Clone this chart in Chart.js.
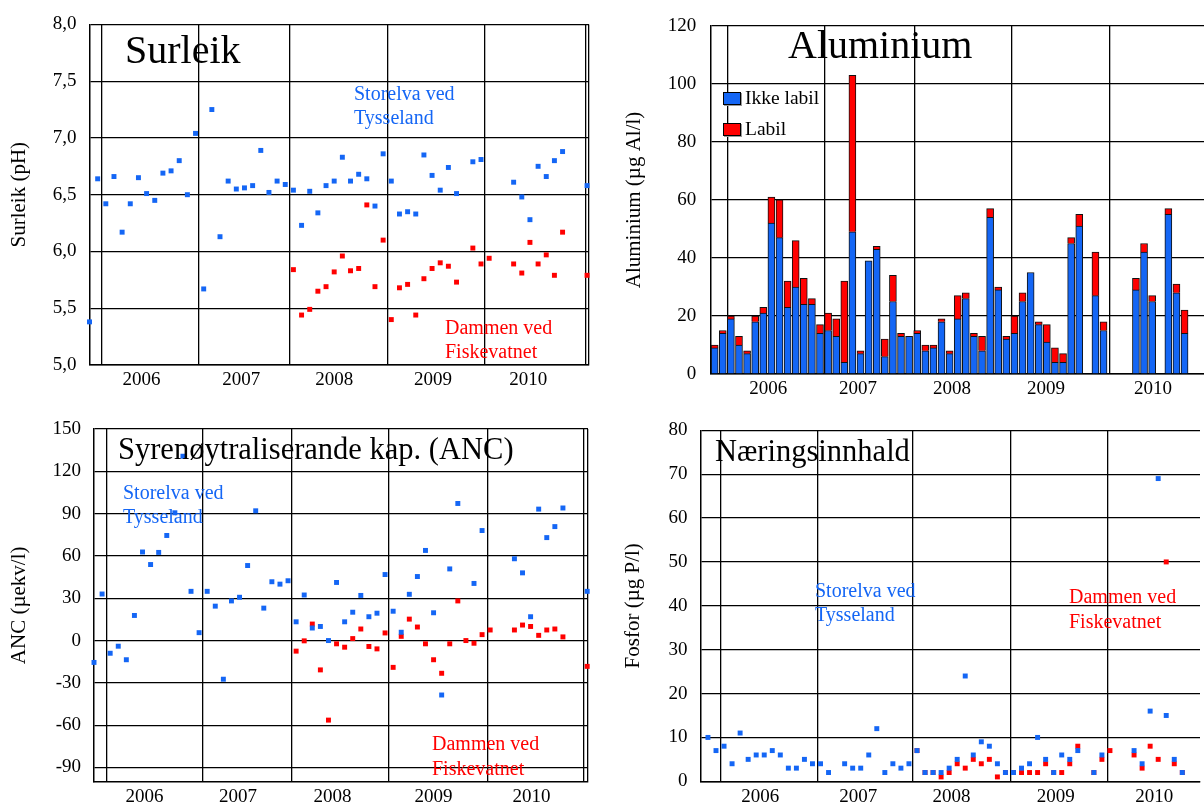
<!DOCTYPE html>
<html>
<head>
<meta charset="utf-8">
<script src="https://cdn.jsdelivr.net/npm/chart.js@4.4.0/dist/chart.umd.min.js"></script>
<style>
  body { margin: 0; background: #fff; }
  #wrap { position: relative; width: 1204px; height: 806px; overflow: hidden; font-family: 'Liberation Serif', 'Times New Roman', serif; }
  canvas { position: absolute; }
  .txt { position: absolute; white-space: nowrap; color: #000; }
  .blue { color: #1466f5; }
  .red { color: #ff0000; }
  .box { position: absolute; width: 18px; height: 13px; box-sizing: border-box; border: 1px solid #000; box-shadow: 1px 1px 0 #999; }
</style>
</head>
<body>
<div id="wrap">
  <canvas id="ph" width="600" height="400" style="left:0px;top:0px"></canvas>
  <canvas id="al" width="604" height="400" style="left:600px;top:0px"></canvas>
  <canvas id="anc" width="600" height="406" style="left:0px;top:400px"></canvas>
  <canvas id="fos" width="604" height="406" style="left:600px;top:400px"></canvas>

  <div class="txt" style="left:125px;top:27px;font-size:40px;line-height:46px">Surleik</div>
  <div class="txt blue" style="left:354px;top:82px;font-size:20px;line-height:23.5px">Storelva ved<br>Tysseland</div>
  <div class="txt red" style="left:445px;top:315px;font-size:20px;line-height:24px">Dammen ved<br>Fiskevatnet</div>

  <div class="txt" style="left:788px;top:22px;font-size:40px;line-height:46px">Aluminium</div>
  <div class="box" style="left:723px;top:92px;background:#1466f5"></div>
  <div class="txt" style="left:745px;top:87px;font-size:19.5px;line-height:22px">Ikke labil</div>
  <div class="box" style="left:723px;top:123px;background:#ff0000"></div>
  <div class="txt" style="left:745px;top:118px;font-size:19.5px;line-height:22px">Labil</div>

  <div class="txt" style="left:118px;top:432px;font-size:30.5px;line-height:35px">Syrenøytraliserande kap. (ANC)</div>
  <div class="txt blue" style="left:123px;top:480px;font-size:20px;line-height:24px">Storelva ved<br>Tysseland</div>
  <div class="txt red" style="left:432px;top:731px;font-size:20px;line-height:25px">Dammen ved<br>Fiskevatnet</div>

  <div class="txt" style="left:715px;top:434px;font-size:30.5px;line-height:35px">Næringsinnhald</div>
  <div class="txt blue" style="left:815px;top:578px;font-size:20px;line-height:24.4px">Storelva ved<br>Tysseland</div>
  <div class="txt red" style="left:1069px;top:584px;font-size:20px;line-height:25px">Dammen ved<br>Fiskevatnet</div>
</div>
<script>
const years = ['2006', '2007', '2008', '2009', '2010'];

// Surleik (pH), one entry per sample
const phStorelva = [5.38, 6.64, 6.42, 6.66, 6.17, 6.42, 6.65, 6.51, 6.45, 6.69,
  6.71, 6.80, 6.50, 7.04, 5.67, 7.25, 6.13, 6.62, 6.55, 6.56,
  6.58, 6.89, 6.52, 6.62, 6.59, 6.54, 6.23, 6.53, 6.34, 6.58,
  6.62, 6.83, 6.62, 6.68, 6.64, 6.40, 6.86, 6.62, 6.33, 6.35,
  6.33, 6.85, 6.67, 6.54, 6.74, 6.51, null, 6.79, 6.81, null,
  null, null, 6.61, 6.48, 6.28, 6.75, 6.66, 6.80, 6.88, null,
  null, 6.58];
const phDammen = [null, null, null, null, null, null, null, null, null, null,
  null, null, null, null, null, null, null, null, null, null,
  null, null, null, null, null, 5.84, 5.44, 5.49, 5.65, 5.69,
  5.82, 5.96, 5.83, 5.85, 6.41, 5.69, 6.10, 5.40, 5.68, 5.71,
  5.44, 5.76, 5.85, 5.90, 5.87, 5.73, null, 6.03, 5.89, 5.94,
  null, null, 5.89, 5.81, 6.08, 5.89, 5.97, 5.79, 6.17, null,
  null, 5.79];
const phTicks = [5.0, 5.5, 6.0, 6.5, 7.0, 7.5, 8.0];
const phYearLines = [1.5, 13.42, 24.54, 36.56, 48.43, 60.86];
const phYearLabelAt = [6.38, 18.6, 30.0, 42.1, 53.8];

// Aluminium (µg Al/l), stacked
const alIkkeLabil = [9, 14, 19, 10, 7, 18, 21, 52, 47, 23,
  30, 24, 24, 14, 15, 13, 4, 49, 7, 39,
  43, 6, 25, 13, 13, 14, 8, 9, 18, 7,
  19, 26, 13, 8, 54, 29, 12, 14, 25, 35,
  17, 11, 4, 4, 45, 51, null, 27, 15, null,
  null, null, 29, 42, 25, null, 55, 28, 14];
const alLabil = [1, 1, 1, 3, 1, 2, 2, 9, 13, 9,
  16, 9, 2, 3, 6, 6, 28, 54, 1, 0,
  1, 6, 9, 1, 0, 1, 2, 1, 1, 1,
  8, 2, 1, 5, 3, 1, 1, 6, 3, 0,
  1, 6, 5, 3, 2, 4, null, 15, 3, null,
  null, null, 4, 3, 2, null, 2, 3, 8];
const alTicks = [0, 20, 40, 60, 80, 100, 120];
const alYearLines = [1.56, 13.54, 24.65, 36.7, 48.7];
const alYearLabelAt = [6.6, 17.7, 29.3, 40.9, 54.1];

// ANC (µekv/l)
const ancStorelva = [-15.5, 33, -9, -4, -13.6, 17.8, 62.8, 53.9, 62.5, 74.5,
  90.6, 130.7, 34.9, 5.6, 34.9, 24.4, -27.4, 28.1, 30.7, 53.2,
  92, 23, 41.7, 40, 42.4, 13.3, 32.3, 8.9, 10, 0,
  41.2, 13.3, 20.1, 32, 16.9, 19.4, 46.8, 20.8, 5.9, 32.8,
  45.4, 63.9, 19.7, -38.6, 50.8, 97.2, null, 40.5, 78, null,
  null, null, 58, 48, 16.9, 93.2, 73, 80.8, 94, null,
  null, 34.9];
const ancDammen = [null, null, null, null, null, null, null, null, null, null,
  null, null, null, null, null, null, null, null, null, null,
  null, null, null, null, null, -7.5, -0.2, 11.7, -20.8, -56.4,
  -2.3, -4.7, 1.4, 8.2, -4.2, -5.9, 5.4, -19, 3, 15.2,
  9.6, -2.3, -13.6, -23.2, -2.3, 28.1, 0, -1.9, 4.2, 7.5,
  null, null, 7.5, 11, 10, 3.7, 7.5, 8.2, 2.6, null,
  null, -18.3];
const ancTicks = [-90, -60, -30, 0, 30, 60, 90, 120, 150];
const ancYearLines = [1.52, 13.5, 24.5, 36.5, 48.7, 60.6];
const ancYearLabelAt = [6.25, 17.8, 29.5, 42.0, 54.1];

// Fosfor (µg P/l)
const fosStorelva = [10, 7, 8, 4, 11, 5, 6, 6, 7, 6,
  3, 3, 5, 4, 4, 2, null, 4, 3, 3,
  6, 12, 2, 4, 3, 4, 7, 2, 2, 2,
  3, 5, 24, 6, 9, 8, 4, 2, 2, 3,
  4, 10, 5, 2, 6, 5, 7, null, 2, 6,
  null, null, null, 7, 4, 16, 69, 15, 5, 2];
const fosDammen = [null, null, null, null, null, null, null, null, null, null,
  null, null, null, null, null, null, null, null, null, null,
  null, null, null, null, null, null, 7, 2, 2, 1,
  2, 4, 3, 5, 4, 5, 1, 2, 2, 2,
  2, 2, 4, 2, 2, 4, 8, null, 2, 5,
  7, null, null, 6, 3, 8, 5, 50, 4, 2];
const fosTicks = [0, 10, 20, 30, 40, 50, 60, 70, 80];
const fosYearLines = [1.52, 13.62, 25.51, 37.6, 49.7];
const fosYearLabelAt = [6.5, 18.7, 30.3, 43.25, 55.5];

const BLUE = '#1466f5';
const RED = '#ff0000';
const FONT = "'Liberation Serif', 'Times New Roman', serif";

function toPoints(values) {
  const pts = [];
  values.forEach((v, i) => { if (v !== null) pts.push({x: i, y: v}); });
  return pts;
}

function yearAxis(min, max, lines, labelAt, edges, height) {
  return {
    type: 'linear', min: min, max: max, offset: false,
    afterBuildTicks: s => {
      s.ticks = lines.concat(labelAt, edges).sort((a, b) => a - b).map(v => ({value: v}));
    },
    afterFit: s => { s.height = height; },
    ticks: {
      autoSkip: false, maxRotation: 0, minRotation: 0, padding: 4, color: '#000',
      font: {family: FONT, size: 19},
      callback: v => { const k = labelAt.indexOf(v); return k >= 0 ? years[k] : ''; }
    },
    grid: {
      drawTicks: false, lineWidth: 1.3, offset: false,
      color: c => (c.tick && labelAt.includes(c.tick.value)) ? 'rgba(0,0,0,0)' : '#000'
    },
    border: {display: true, color: '#000', width: 1.5}
  };
}

function valueAxis(min, max, tickVals, fmt, width, title, titlePad, tickPad) {
  return {
    type: 'linear', min: min, max: max,
    afterBuildTicks: s => { s.ticks = tickVals.map(v => ({value: v})); },
    afterFit: s => { s.width = width; },
    ticks: {padding: tickPad, color: '#000', font: {family: FONT, size: 19}, callback: fmt},
    grid: {drawTicks: false, color: '#000', lineWidth: 1.3},
    border: {display: true, color: '#000', width: 1.5},
    title: {display: true, text: title, color: '#000', font: {family: FONT, size: 21},
      padding: {top: titlePad, bottom: 0}}
  };
}

function dots(values, color) {
  return {
    type: 'scatter', data: toPoints(values), backgroundColor: color, borderWidth: 0,
    pointStyle: 'rect', pointRadius: 3.5, pointBorderWidth: 0, clip: false
  };
}

function baseOptions(pad, x, y) {
  return {
    responsive: false, animation: false, devicePixelRatio: 1, events: [],
    layout: {padding: pad},
    plugins: {legend: {display: false}, tooltip: {enabled: false}},
    scales: {x: x, y: y}
  };
}

const comma = v => v.toFixed(1).replace('.', ',');
const plain = v => String(v);

new Chart(document.getElementById('ph'), {
  type: 'scatter',
  data: {datasets: [dots(phStorelva, BLUE), dots(phDammen, RED)]},
  options: baseOptions({left: 0, top: 22, right: 11, bottom: 0},
    yearAxis(0, 61.24, phYearLines, phYearLabelAt, [61.24], 35),
    valueAxis(5, 8, phTicks, comma, 89.5, 'Surleik (pH)', 7, 13))
});

const alX = yearAxis(-0.48, 60.4, alYearLines, alYearLabelAt, [], 26);
alX.stacked = true;
const alY = valueAxis(0, 120, alTicks, plain, 110.8, 'Aluminium (µg Al/l)', 21.7, 14.5);
alY.stacked = true;
new Chart(document.getElementById('al'), {
  type: 'bar',
  data: {datasets: [
    {label: 'Ikke labil', data: toPoints(alIkkeLabil), backgroundColor: BLUE,
      borderColor: '#111', borderWidth: 1, barThickness: 7},
    {label: 'Labil', data: toPoints(alLabil), backgroundColor: RED,
      borderColor: '#111', borderWidth: 1, barThickness: 7}
  ]},
  options: baseOptions({left: 0, top: 22, right: 0, bottom: 0}, alX, alY)
});

new Chart(document.getElementById('anc'), {
  type: 'scatter',
  data: {datasets: [dots(ancStorelva, BLUE), dots(ancDammen, RED)]},
  options: baseOptions({left: 0, top: 29, right: 12, bottom: 0},
    yearAxis(0, 61.1, ancYearLines, ancYearLabelAt, [61.1], 21),
    valueAxis(-100, 150, ancTicks, plain, 94, 'ANC (µekv/l)', 7, 13))
});

new Chart(document.getElementById('fos'), {
  type: 'scatter',
  data: {datasets: [dots(fosStorelva, BLUE), dots(fosDammen, RED)]},
  options: baseOptions({left: 0, top: 30.3, right: 0, bottom: 0},
    yearAxis(-0.94, 61.2, fosYearLines, fosYearLabelAt, [], 24.7),
    valueAxis(0, 80, fosTicks, plain, 100.4, 'Fosfor (µg P/l)', 20.6, 13))
});
</script>
</body>
</html>
